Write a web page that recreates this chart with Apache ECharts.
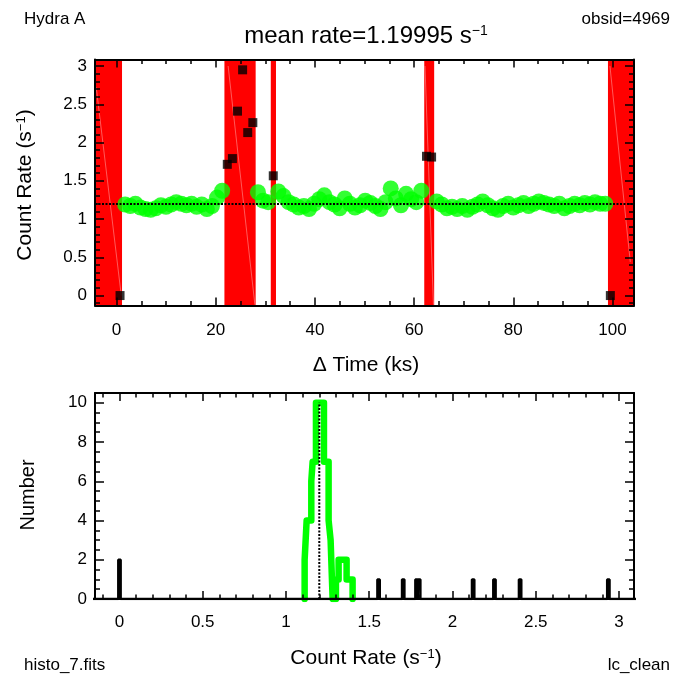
<!DOCTYPE html>
<html><head><meta charset="utf-8">
<script src="https://cdn.jsdelivr.net/npm/echarts@6/dist/echarts.min.js"></script>
<style>html,body{margin:0;padding:0;background:#fff}#c{width:675px;height:678px}</style>
</head><body><div id="c"></div>
<script>
// ---------- light curve data ----------
const greenTime = [1.73,2.76,3.79,4.82,5.85,6.88,7.91,8.94,9.97,11.00,12.03,13.06,14.09,15.12,16.15,17.18,18.21,19.24,20.27,21.30,
  28.51,29.54,30.57,
  32.63,33.66,34.69,35.72,36.75,37.78,38.81,39.84,40.87,41.90,42.93,43.96,44.99,46.02,47.05,48.08,49.11,50.14,51.17,52.20,53.23,54.26,55.29,56.32,57.35,58.38,59.41,60.44,61.47,
  64.56,65.59,66.62,67.65,68.68,69.71,70.74,71.77,72.80,73.83,74.86,75.89,76.92,77.95,78.98,80.01,81.04,82.07,83.10,84.13,85.16,86.19,87.22,88.25,89.28,90.31,91.34,92.37,93.40,94.43,95.46,96.49,97.52,98.55];
const greenRate = [1.19,1.17,1.20,1.15,1.13,1.12,1.14,1.18,1.16,1.19,1.22,1.20,1.18,1.20,1.16,1.19,1.13,1.17,1.28,1.37,
  1.35,1.24,1.22,
  1.36,1.30,1.22,1.19,1.15,1.17,1.13,1.20,1.26,1.31,1.22,1.19,1.14,1.27,1.20,1.15,1.18,1.24,1.21,1.17,1.13,1.22,1.40,1.27,1.18,1.33,1.26,1.22,1.37,
  1.23,1.19,1.14,1.16,1.13,1.17,1.12,1.16,1.19,1.23,1.18,1.14,1.12,1.17,1.20,1.15,1.18,1.21,1.17,1.20,1.23,1.21,1.19,1.17,1.20,1.14,1.17,1.20,1.18,1.21,1.19,1.22,1.20,1.20];
const badTime = [0.70,22.33,23.36,24.39,25.42,26.45,27.48,31.60,62.50,63.53,99.58];
const badRate = [0.00,1.715,1.79,2.41,2.95,2.13,2.26,1.565,1.82,1.81,0.00];
const bandStart = [-8.0,21.75,31.10,62.05,99.10];
const bandEnd   = [1.10,28.05,32.15,64.05,112.0];
// faint light streaks visible inside the shaded bands: [t_top, rate_top, t_bottom, rate_bottom]
const streaks = [[-4.1,2.72,0.95,0.0],[22.5,3.0,27.9,-0.12],[62.2,3.0,63.9,-0.12],[99.5,3.0,103.6,0.44]];
const meanRate = 1.19995;
const timeTicks = [0,20,40,60,80,100];
const rateTicks = [0,0.5,1,1.5,2,2.5,3];
// ---------- histogram data ----------
const histGreenEdges  = [1.112,1.124,1.152,1.160,1.180,1.228,1.256,1.268,1.280,1.300,1.316,1.364,1.400];
const histGreenCounts = [2,4,6,7,10,7,4,3,0,1,2,1];
const histBlackRates  = [0.000,1.556,1.704,1.784,1.800,2.124,2.252,2.406,2.936];
const histBlackCounts = [2,1,1,1,1,1,1,1,1];
const histBlackWidth = 0.014;
const histRateTicks = [0,0.5,1,1.5,2,2.5,3];
const numberTicks = [0,2,4,6,8,10];

const FONT = 'Liberation Sans, Arial, Helvetica, sans-serif';
function minorList(min, max, step, majors){
  const out=[]; const n=Math.round((max-min)/step);
  for(let i=0;i<=n;i++){const v=+(min+i*step).toFixed(6); if(!majors.some(m=>Math.abs(m-v)<1e-6)) out.push(v);} return out;
}
function mkAxis(grid, pos, min, max, values, len, labels, frame, margin){
  return {type:'value', gridIndex:grid, position:pos, min:min, max:max, z:10,
    axisLine:{show:frame, onZero:false, lineStyle:{color:'#000', width:2}},
    axisTick:{show:true, inside:true, length:len, customValues:values, lineStyle:{color:'#000', width:1.5}},
    axisLabel:{show:labels, customValues: labels?values:undefined, color:'#000', fontSize:17, fontFamily:FONT, margin:margin||10},
    splitLine:{show:false}, minorTick:{show:false}};
}
const t0=-4.35, t1=104.35, r0=-0.13, r1=3.085, h0=-0.147, h1=3.09, n0=0, n1=10.5;
const tMinor = minorList(-0, 105, 5, timeTicks);
const rMinor = minorList(-0.1, 3.0, 0.1, rateTicks);
const hMinor = minorList(-0.1, 3.0, 0.1, histRateTicks);
const nMinor = minorList(0, 10.5, 0.5, numberTicks);

const xAxes = [
  mkAxis(0,'bottom',t0,t1,timeTicks,8,true,true,16),
  mkAxis(0,'bottom',t0,t1,tMinor,4.5,false,false),
  mkAxis(0,'top',t0,t1,timeTicks,8,false,true),
  mkAxis(0,'top',t0,t1,tMinor,4.5,false,false),
  mkAxis(1,'bottom',h0,h1,histRateTicks,8,true,true,15),
  mkAxis(1,'bottom',h0,h1,hMinor,4.5,false,false),
  mkAxis(1,'top',h0,h1,histRateTicks,8,false,true),
  mkAxis(1,'top',h0,h1,hMinor,4.5,false,false)
];
const yAxes = [
  mkAxis(0,'left',r0,r1,rateTicks,9,true,true,8),
  mkAxis(0,'left',r0,r1,rMinor,5,false,false),
  mkAxis(0,'right',r0,r1,rateTicks,9,false,true),
  mkAxis(0,'right',r0,r1,rMinor,5,false,false),
  mkAxis(1,'left',n0,n1,numberTicks,9,true,true,8),
  mkAxis(1,'left',n0,n1,nMinor,5,false,false),
  mkAxis(1,'right',n0,n1,numberTicks,9,false,true),
  mkAxis(1,'right',n0,n1,nMinor,5,false,false)
];

// histogram step paths from the bin arrays
const greenStep = [[histGreenEdges[0],0]];
histGreenCounts.forEach((c,i)=>greenStep.push([histGreenEdges[i],c]));
greenStep.push([histGreenEdges[histGreenEdges.length-1],0]);
const blackStep = [[h0-0.1,0]];
histBlackRates.forEach((r,i)=>{blackStep.push([r-histBlackWidth/2,histBlackCounts[i]]); blackStep.push([r+histBlackWidth/2,0]);});
blackStep.push([h1+0.1,0]);
const peak = Math.max.apply(null, histGreenCounts);

const supRich = (fs)=>({a:{fontSize:fs,fontFamily:FONT,color:'#000'}, b:{fontSize:Math.round(fs*0.6),fontFamily:FONT,color:'#000',verticalAlign:'top'}});

const chart = echarts.init(document.getElementById('c'), null, {renderer:'canvas'});
chart.setOption({
  animation:false,
  backgroundColor:'#fff',
  grid:[{left:95,top:59.5,width:539,height:246},{left:95,top:393,width:539,height:206}],
  xAxis:xAxes, yAxis:yAxes,
  series:[
    {type:'custom', xAxisIndex:0, yAxisIndex:0, z:1, clip:true,
      data: bandStart.map((s,i)=>[s,bandEnd[i]]), encode:{x:[0,1]},
      renderItem:(params,api)=>{
        const cs=params.coordSys; const xa=api.coord([api.value(0),0])[0], xb=api.coord([api.value(1),0])[0];
        const rect = echarts.graphic.clipRectByRect({x:xa,y:cs.y,width:xb-xa,height:cs.height},{x:cs.x,y:cs.y,width:cs.width,height:cs.height});
        return rect?{type:'rect',shape:rect,style:{fill:'#ff0000'}}:null;
      }},
    {type:'custom', xAxisIndex:0, yAxisIndex:0, z:2, clip:true,
      data: streaks, encode:{x:[0,2], y:[1,3]},
      renderItem:(params,api)=>{
        const a=api.coord([api.value(0),api.value(1)]), b=api.coord([api.value(2),api.value(3)]);
        return {type:'line',shape:{x1:a[0],y1:a[1],x2:b[0],y2:b[1]},style:{stroke:'rgba(255,160,160,0.7)',lineWidth:0.8}};
      }},
    {type:'scatter', xAxisIndex:0, yAxisIndex:0, z:3, symbol:'circle', symbolSize:16,
      itemStyle:{color:'#00ff00'}, data:greenTime.map((t,i)=>[t,greenRate[i]])},
    {type:'scatter', xAxisIndex:0, yAxisIndex:0, z:4, symbol:'rect', symbolSize:9,
      itemStyle:{color:'#000'}, data:badTime.map((t,i)=>[t,badRate[i]]),
      markLine:{silent:true, symbol:'none', label:{show:false}, lineStyle:{color:'#000',type:[2,1.5],width:2},
        data:[{yAxis:meanRate}]}},
    {type:'line', xAxisIndex:4, yAxisIndex:4, z:3, step:'end', showSymbol:false, symbol:'none',
      lineStyle:{color:'#00ff00', width:6.5, cap:'round', join:'round'}, data:greenStep},
    {type:'line', xAxisIndex:4, yAxisIndex:4, z:4, step:'end', showSymbol:false, symbol:'none',
      lineStyle:{color:'#000', width:2.5}, data:blackStep},
    {type:'line', xAxisIndex:4, yAxisIndex:4, z:5, showSymbol:false, symbol:'none',
      lineStyle:{color:'#000', width:2, type:[2,1.5]}, data:[[meanRate,0],[meanRate,peak]]}
  ],
  graphic:[
    {type:'text', x:366, y:36, style:{text:'{a|mean rate=1.19995 s}{b|−1}', rich:supRich(24), align:'center', verticalAlign:'middle'}},
    {type:'text', x:24, y:19, style:{text:'Hydra A', font:'17px '+FONT, fill:'#000', align:'left', verticalAlign:'middle'}},
    {type:'text', x:670, y:19, style:{text:'obsid=4969', font:'17px '+FONT, fill:'#000', align:'right', verticalAlign:'middle'}},
    {type:'text', x:24, y:665, style:{text:'histo_7.fits', font:'17px '+FONT, fill:'#000', align:'left', verticalAlign:'middle'}},
    {type:'text', x:670, y:665, style:{text:'lc_clean', font:'17px '+FONT, fill:'#000', align:'right', verticalAlign:'middle'}},
    {type:'text', x:25, y:185, rotation:Math.PI/2, style:{text:'{a|Count Rate (s}{b|−1}{a|)}', rich:supRich(21), align:'center', verticalAlign:'middle'}},
    {type:'text', x:366, y:365, style:{text:'Δ Time (ks)', font:'21px '+FONT, fill:'#000', align:'center', verticalAlign:'middle'}},
    {type:'text', x:28, y:495, rotation:Math.PI/2, style:{text:'Number', font:'20px '+FONT, fill:'#000', align:'center', verticalAlign:'middle'}},
    {type:'text', x:366, y:658, style:{text:'{a|Count Rate (s}{b|−1}{a|)}', rich:supRich(21), align:'center', verticalAlign:'middle'}}
  ]
});
</script></body></html>
